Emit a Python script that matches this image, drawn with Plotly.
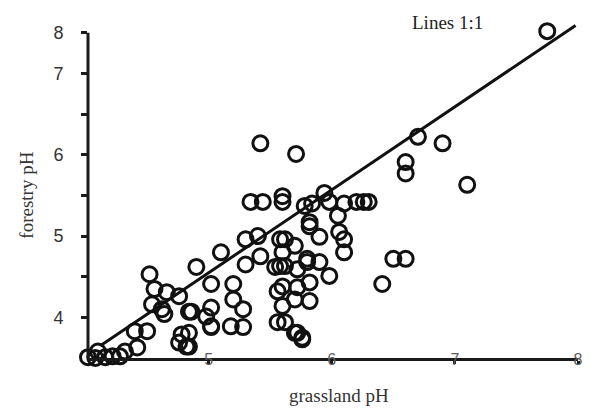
import plotly.graph_objects as go

# grassland pH (x) vs forestry pH (y), values in axis units
grass = [7.75, 6.70, 6.90, 6.60, 6.60, 7.10, 6.50, 6.60, 6.41, 5.42, 5.71,
         5.60, 5.84, 5.94, 5.98, 6.10, 6.20, 6.26, 6.30, 5.82, 5.90, 6.06, 6.10, 6.10,
         5.62, 5.70, 5.60, 5.80, 5.62, 5.72, 5.90, 5.98, 5.82, 5.72, 5.60, 5.70, 5.82,
         5.60, 5.62, 5.70, 5.76, 6.05,
         5.34, 5.44, 5.60, 5.78, 5.10, 5.30, 5.40, 4.90, 5.02, 5.20, 5.30, 5.42, 5.54,
         5.58, 5.58, 5.80, 4.86, 5.02, 5.20, 4.76, 4.84, 5.02, 5.18, 5.28, 5.28, 5.56,
         5.56, 5.72, 5.76, 4.82, 5.82,
         4.52, 4.56, 4.66, 4.54, 4.62, 4.64, 4.84, 4.98, 5.02, 4.50, 4.40, 4.78, 4.76,
         4.84, 4.42, 4.32, 4.22, 4.10, 4.02, 4.16, 4.08, 4.28]
forest = [7.52, 6.22, 6.14, 5.91, 5.77, 5.63, 4.72, 4.72, 4.41, 6.14, 6.01,
          5.49, 5.40, 5.53, 5.42, 5.40, 5.42, 5.42, 5.42, 5.12, 4.99, 5.05, 4.96, 4.80,
          4.96, 4.88, 4.80, 4.72, 4.63, 4.59, 4.68, 4.51, 4.43, 4.37, 4.38, 4.22, 4.20,
          4.14, 3.94, 3.81, 3.75, 5.25,
          5.42, 5.42, 5.42, 5.37, 4.80, 4.96, 5.00, 4.62, 4.41, 4.41, 4.65, 4.75, 4.62,
          4.63, 4.96, 4.68, 4.07, 4.12, 4.22, 4.26, 3.81, 3.89, 3.89, 3.88, 4.10, 4.32,
          3.94, 3.81, 3.73, 3.64, 5.17,
          4.53, 4.35, 4.31, 4.16, 4.10, 4.04, 4.07, 4.01, 3.88, 3.83, 3.83, 3.79, 3.69,
          3.64, 3.63, 3.58, 3.52, 3.58, 3.51, 3.51, 3.50, 3.52]

line_x = [4.12, 7.98]
line_y = [3.65, 7.59]

y_tickvals = [4, 4.5, 5, 5.5, 6, 6.5, 7, 7.5]
y_ticktext = ["4", "", "5", "", "6", "", "7", "8"]
x_tickvals = [5, 6, 7, 8]
x_ticktext = ["5", "6", "7", "8"]

Y_MIN, Y_AXIS_TOP, Y_MAX = 3.5, 7.5, 7.62
X_MIN, X_MAX = 4.02, 8.0

fig = go.Figure()
fig.add_trace(go.Scatter(x=line_x, y=line_y, mode="lines",
                         line=dict(color="#111111", width=3), cliponaxis=False,
                         showlegend=False))
fig.add_trace(go.Scatter(x=grass, y=forest, mode="markers", cliponaxis=False,
                         marker=dict(symbol="circle-open", size=15, color="#111111",
                                     line=dict(width=3)),
                         showlegend=False))

L, R, T, B = 88, 9, 23, 50
fig.update_layout(
    width=592, height=408,
    margin=dict(l=L, r=R, t=T, b=B),
    paper_bgcolor="white", plot_bgcolor="white",
    xaxis=dict(range=[X_MIN, X_MAX], tickvals=x_tickvals, ticktext=x_ticktext,
               showgrid=False, zeroline=False, showline=True, linecolor="#1a1a1a",
               linewidth=3, ticks="outside", ticklen=3, tickwidth=3, tickcolor="#1a1a1a",
               ticklabelstandoff=-18,
               tickfont=dict(family="Liberation Sans", size=16, color="#5a5a5a")),
    yaxis=dict(range=[Y_MIN, Y_MAX], tickvals=y_tickvals, ticktext=y_ticktext,
               showgrid=False, zeroline=False, showline=False,
               ticks="outside", ticklen=6, tickwidth=3, tickcolor="#1a1a1a",
               ticklabelstandoff=14,
               tickfont=dict(family="Liberation Sans", size=18, color="#333333")),
    shapes=[dict(type="line", xref="paper", yref="y", x0=0, x1=0,
                 y0=Y_MIN, y1=Y_AXIS_TOP, line=dict(color="#1a1a1a", width=3))],
)

pw = 592 - L - R
ph = 408 - T - B
def px_to_paper(px, py):
    return (px - L) / pw, (408 - B - py) / ph

ax, ay = px_to_paper(25, 195)
bx, by = px_to_paper(342, 395)
cx, cy = px_to_paper(451, 22)
serif = dict(family="Liberation Serif", size=19, color="#333333")
fig.add_annotation(text="forestry pH", x=ax, y=ay, xref="paper", yref="paper",
                   xanchor="center", yanchor="middle", showarrow=False,
                   textangle=-90, font=serif)
fig.add_annotation(text="grassland pH", x=bx, y=by, xref="paper", yref="paper",
                   xanchor="center", yanchor="middle", showarrow=False, font=serif)
fig.add_annotation(text="Lines 1:1", x=cx, y=cy, xref="paper", yref="paper",
                   xanchor="center", yanchor="middle", showarrow=False,
                   font=dict(family="Liberation Serif", size=19, color="#222222"))

fig.write_html("out.html")
